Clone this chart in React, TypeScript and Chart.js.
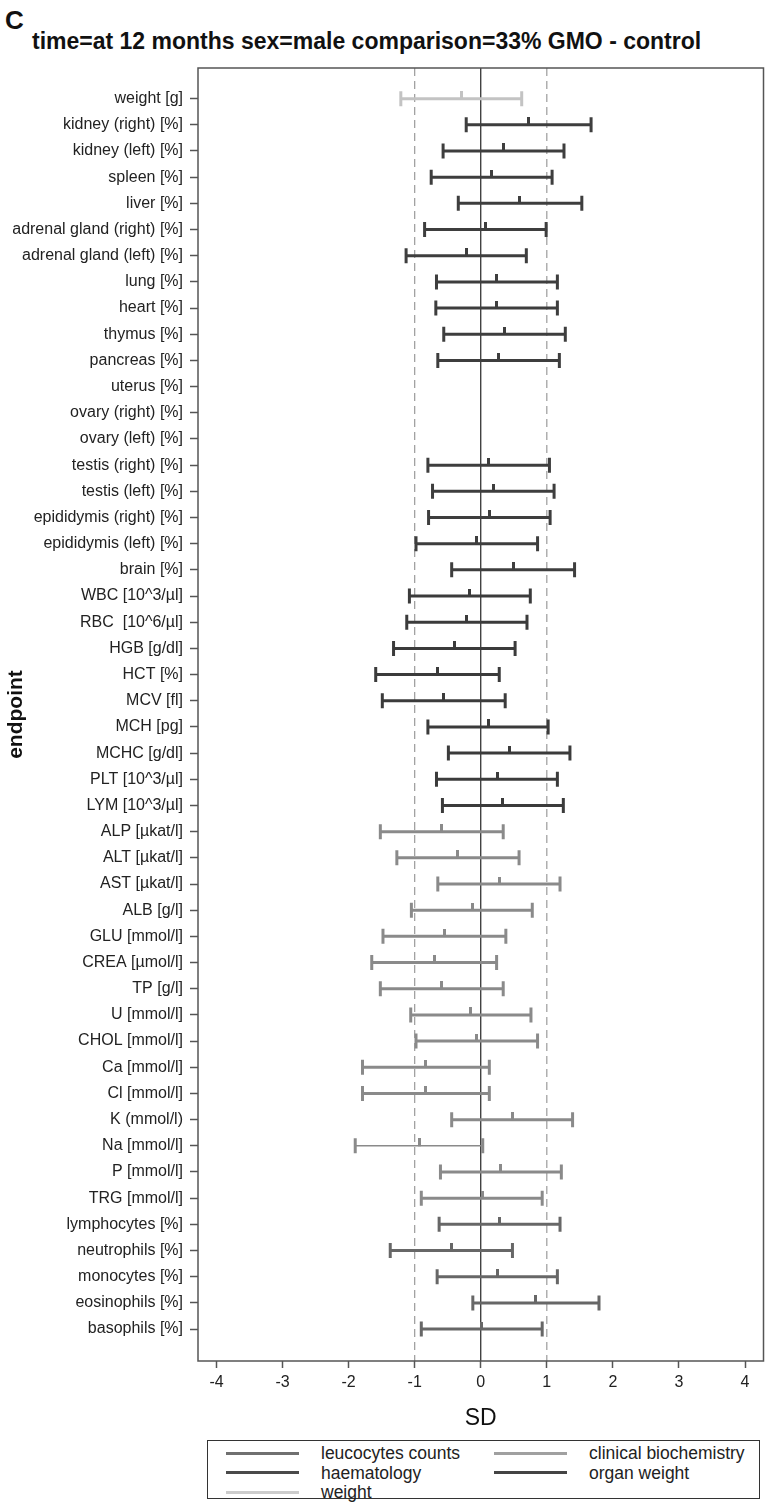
import React, { useEffect, useRef } from "react";
import { Chart, registerables } from "chart.js";

Chart.register(...registerables);

// ---------- data ----------
const endpoints = [
  "weight [g]",
  "kidney (right) [%]",
  "kidney (left) [%]",
  "spleen [%]",
  "liver [%]",
  "adrenal gland (right) [%]",
  "adrenal gland (left) [%]",
  "lung [%]",
  "heart [%]",
  "thymus [%]",
  "pancreas [%]",
  "uterus [%]",
  "ovary (right) [%]",
  "ovary (left) [%]",
  "testis (right) [%]",
  "testis (left) [%]",
  "epididymis (right) [%]",
  "epididymis (left) [%]",
  "brain [%]",
  "WBC [10^3/µl]",
  "RBC  [10^6/µl]",
  "HGB [g/dl]",
  "HCT [%]",
  "MCV [fl]",
  "MCH [pg]",
  "MCHC [g/dl]",
  "PLT [10^3/µl]",
  "LYM [10^3/µl]",
  "ALP [µkat/l]",
  "ALT [µkat/l]",
  "AST [µkat/l]",
  "ALB [g/l]",
  "GLU [mmol/l]",
  "CREA [µmol/l]",
  "TP [g/l]",
  "U [mmol/l]",
  "CHOL [mmol/l]",
  "Ca [mmol/l]",
  "Cl [mmol/l]",
  "K (mmol/l)",
  "Na [mmol/l]",
  "P [mmol/l]",
  "TRG [mmol/l]",
  "lymphocytes [%]",
  "neutrophils [%]",
  "monocytes [%]",
  "eosinophils [%]",
  "basophils [%]",
];

const lower = [
  -1.21, -0.22, -0.57, -0.75, -0.34, -0.85, -1.13, -0.67, -0.68, -0.56, -0.65,
  null, null, null,
  -0.8, -0.73, -0.79, -0.98, -0.44,
  -1.08, -1.12, -1.32, -1.59, -1.49, -0.8, -0.49, -0.67, -0.58,
  -1.52, -1.27, -0.65, -1.05, -1.48, -1.65, -1.52, -1.06, -0.98, -1.79, -1.79, -0.44, -1.9, -0.61, -0.9,
  -0.63, -1.37, -0.66, -0.12, -0.9,
];
const mean = [
  -0.29, 0.73, 0.35, 0.16, 0.59, 0.07, -0.22, 0.24, 0.24, 0.36, 0.27,
  null, null, null,
  0.12, 0.19, 0.13, -0.06, 0.49,
  -0.17, -0.21, -0.4, -0.65, -0.56, 0.11, 0.43, 0.25, 0.33,
  -0.59, -0.35, 0.28, -0.13, -0.55, -0.7, -0.59, -0.15, -0.06, -0.83, -0.83, 0.48, -0.93, 0.3, 0.02,
  0.29, -0.45, 0.25, 0.83, 0.01,
];
const upper = [
  0.62, 1.67, 1.26, 1.08, 1.53, 0.99, 0.69, 1.16, 1.16, 1.28, 1.19,
  null, null, null,
  1.04, 1.11, 1.05, 0.86, 1.42,
  0.75, 0.7, 0.52, 0.28, 0.37, 1.02, 1.35, 1.16, 1.25,
  0.34, 0.58, 1.2, 0.78, 0.38, 0.24, 0.34, 0.76, 0.86, 0.13, 0.13, 1.39, 0.03, 1.22, 0.93,
  1.2, 0.48, 1.16, 1.79, 0.93,
];

const groupOrder = ["weight", "organ weight", "haematology", "clinical biochemistry", "leucocytes counts"];
const groupSizes = [1, 18, 9, 15, 5];
const xTicks = [-4, -3, -2, -1, 0, 1, 2, 3, 4];
const referenceLines = [-1, 0, 1];
const legendItems = ["leucocytes counts", "clinical biochemistry", "haematology", "organ weight", "weight"];
const thinRows = ["Na [mmol/l]"];

const titleText = "time=at 12 months sex=male comparison=33% GMO - control";
const panelLetter = "C";
const xTitle = "SD";
const yTitle = "endpoint";

// ---------- styles ----------
const COLORS: Record<string, string> = {
  weight: "#c3c3c3",
  "organ weight": "#3e3e3e",
  haematology: "#3b3b3b",
  "clinical biochemistry": "#8a8a8a",
  "leucocytes counts": "#676767",
};
const LEGEND_COLORS: Record<string, string> = {
  "leucocytes counts": "#707070",
  "clinical biochemistry": "#a0a0a0",
  haematology: "#4a4a4a",
  "organ weight": "#444444",
  weight: "#cccccc",
};

const FONT = "'Liberation Sans', Arial, Helvetica, sans-serif";
const Y_MIN = -1.17;
const Y_MAX = 48.22;
const X_MIN = -4.28;
const X_MAX = 4.28;

const rowGroup: string[] = groupSizes.flatMap((n, g) => Array(n).fill(groupOrder[g]));

function makeMeanTick(color: string) {
  const c = document.createElement("canvas");
  c.width = 3;
  c.height = 15;
  const g = c.getContext("2d")!;
  g.fillStyle = color;
  g.fillRect(0, 0, 3, 8);
  return c;
}

const framePlugin = {
  id: "frame",
  afterDatasetsDraw(chart: any) {
    const { ctx, chartArea: a } = chart;
    ctx.save();
    ctx.strokeStyle = "#555555";
    ctx.lineWidth = 1.5;
    ctx.strokeRect(a.left, a.top, a.right - a.left, a.bottom - a.top);
    ctx.restore();
  },
};

export default function App() {
  const ref = useRef<HTMLCanvasElement>(null);

  useEffect(() => {
    if (!ref.current) return;
    Chart.defaults.font.family = FONT;

    const datasets: any[] = [];

    // reference lines
    referenceLines.forEach((v) => {
      datasets.push({
        type: "scatter",
        data: [
          { x: v, y: Y_MIN },
          { x: v, y: Y_MAX },
        ],
        showLine: true,
        borderColor: v === 0 ? "#222222" : "#9a9a9a",
        borderWidth: 1.2,
        borderDash: v === 0 ? [] : [8, 5],
        pointRadius: 0,
        order: 3,
      });
    });

    // interval bars
    endpoints.forEach((name, i) => {
      if (lower[i] == null || upper[i] == null) return;
      const color = COLORS[rowGroup[i]];
      const thin = thinRows.includes(name);
      datasets.push({
        type: "scatter",
        data: [
          { x: lower[i], y: i },
          { x: upper[i], y: i },
        ],
        showLine: true,
        borderColor: color,
        backgroundColor: color,
        borderWidth: thin ? 1.6 : 3,
        pointStyle: "line",
        pointRotation: 90,
        pointRadius: 7.5,
        pointBorderWidth: 3,
        pointBorderColor: color,
        pointBackgroundColor: color,
        order: 2,
      });
    });

    // mean ticks, one dataset per group
    groupOrder.forEach((grp) => {
      const color = COLORS[grp];
      const pts = endpoints
        .map((_, i) => i)
        .filter((i) => rowGroup[i] === grp && mean[i] != null)
        .map((i) => ({ x: mean[i] as number, y: i }));
      datasets.push({
        type: "scatter",
        data: pts,
        pointStyle: makeMeanTick(color),
        pointRadius: 7,
        order: 1,
      });
    });

    const chart = new Chart(ref.current, {
      type: "scatter",
      data: { datasets },
      plugins: [framePlugin],
      options: {
        animation: false,
        responsive: false,
        devicePixelRatio: 1,
        events: [],
        layout: { padding: { top: 68, right: 2, left: 0, bottom: 0 } },
        plugins: {
          legend: { display: false },
          tooltip: { enabled: false },
          title: { display: false },
        },
        scales: {
          x: {
            type: "linear",
            min: X_MIN,
            max: X_MAX,
            afterBuildTicks: (s: any) => {
              s.ticks = xTicks.map((v) => ({ value: v }));
            },
            afterFit: (s: any) => {
              s.height = 71;
            },
            ticks: {
              autoSkip: false,
              maxRotation: 0,
              color: "#222222",
              font: { size: 16 },
              padding: 5,
              callback: (v: any) => String(v),
            },
            grid: {
              drawOnChartArea: false,
              drawTicks: true,
              tickLength: 7,
              tickColor: "#555555",
              tickWidth: 1.5,
            },
            border: { display: false },
            title: {
              display: true,
              text: xTitle,
              color: "#111111",
              font: { size: 23 },
              padding: { top: 2, bottom: 0 },
            },
          },
          y: {
            type: "linear",
            reverse: true,
            min: Y_MIN,
            max: Y_MAX,
            afterBuildTicks: (s: any) => {
              s.ticks = endpoints.map((_, i) => ({ value: i }));
            },
            afterFit: (s: any) => {
              s.width = 198;
            },
            ticks: {
              autoSkip: false,
              color: "#222222",
              font: { size: 16 },
              padding: 7,
              callback: (v: any) => endpoints[v as number],
            },
            grid: {
              drawOnChartArea: false,
              drawTicks: true,
              tickLength: 8,
              tickColor: "#555555",
              tickWidth: 1.5,
            },
            border: { display: false },
            title: {
              display: true,
              text: yTitle,
              color: "#111111",
              font: { size: 21, weight: "bold" },
              padding: { top: 4, bottom: 0 },
            },
          },
        },
      } as any,
    });

    return () => chart.destroy();
  }, []);

  return (
    <div style={{ position: "absolute", left: 0, top: 0, width: 774, height: 1503, background: "#fff", fontFamily: FONT }}>
      <div
        style={{
          position: "absolute",
          left: 5,
          top: 7,
          fontSize: 26,
          lineHeight: "26px",
          fontWeight: "bold",
          color: "#111",
        }}
      >
        {panelLetter}
      </div>
      <div
        style={{
          position: "absolute",
          left: 32,
          top: 30,
          fontSize: 23,
          lineHeight: "23px",
          fontWeight: "bold",
          color: "#111",
          whiteSpace: "nowrap",
        }}
      >
        {titleText}
      </div>
      <canvas ref={ref} width={774} height={1432} style={{ position: "absolute", left: 0, top: 0 }} />
      <div
        style={{
          position: "absolute",
          left: 207,
          top: 1440,
          width: 553,
          height: 59,
          border: "1.5px solid #333",
          boxSizing: "border-box",
        }}
      >
        {legendItems.map((name, k) => {
          const col = k % 2;
          const row = Math.floor(k / 2);
          const cy = 12 + row * 19.5;
          return (
            <React.Fragment key={name}>
              <div
                style={{
                  position: "absolute",
                  left: col ? 286 : 18,
                  top: cy - 1.5,
                  width: 73,
                  height: 3,
                  background: LEGEND_COLORS[name],
                }}
              />
              <div
                style={{
                  position: "absolute",
                  left: col ? 381 : 113,
                  top: cy - 10,
                  fontSize: 17.5,
                  lineHeight: "20px",
                  color: "#222",
                  whiteSpace: "nowrap",
                }}
              >
                {name}
              </div>
            </React.Fragment>
          );
        })}
      </div>
    </div>
  );
}
